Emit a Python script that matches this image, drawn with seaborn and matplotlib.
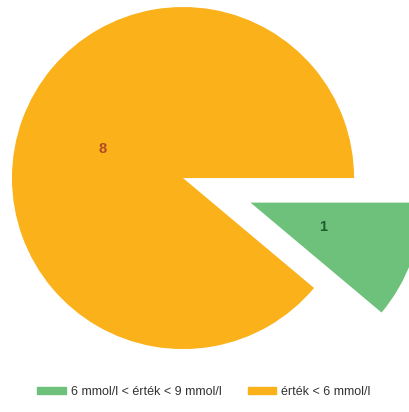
import matplotlib
matplotlib.use("Agg")
import matplotlib.pyplot as plt
import matplotlib.patches as mpatches
import seaborn as sns

# Glucose measurement counts by range
categories = ["6 mmol/l < érték < 9 mmol/l", "érték < 6 mmol/l"]
counts = [1, 8]
colors = ["#6DC17B", "#FBB11A"]
label_colors = ["#1F5C2C", "#B24A26"]

sns.set_theme(style="white")
plt.rcParams["font.family"] = ["Liberation Sans", "DejaVu Sans"]

fig = plt.figure(figsize=(4.10, 4.12), dpi=100)
ax = fig.add_axes([0, 0, 1, 1])

wedges, texts, autotexts = ax.pie(
    counts,
    colors=colors,
    startangle=-40,
    counterclock=True,
    explode=[0.42, 0.0],
    autopct=lambda p: f"{round(p * sum(counts) / 100):d}",
    pctdistance=0.5,
    wedgeprops=dict(linewidth=0),
    textprops=dict(fontsize=10.5, fontweight="semibold"),
)
for t, c in zip(autotexts, label_colors):
    t.set_color(c)
# nudge the small-slice label slightly toward the slice tip
x1, y1 = autotexts[0].get_position()
autotexts[0].set_position((x1 * 0.95, y1 * 0.95 + 0.01))

ax.set_xlim(-1.070, 1.327)
ax.set_ylim(-1.368, 1.041)
ax.set_aspect("auto")
ax.axis("off")

handles = [mpatches.Patch(color=c, label=l) for c, l in zip(colors, categories)]
fig.legend(
    handles=handles,
    loc="center",
    bbox_to_anchor=(0.497, 0.048),
    ncol=2,
    frameon=False,
    fontsize=9,
    handlelength=2.25,
    handleheight=0.5,
    handletextpad=0.4,
    columnspacing=2.1,
    labelcolor="#333333",
)

fig.savefig("out.png", dpi=100, facecolor="white")
